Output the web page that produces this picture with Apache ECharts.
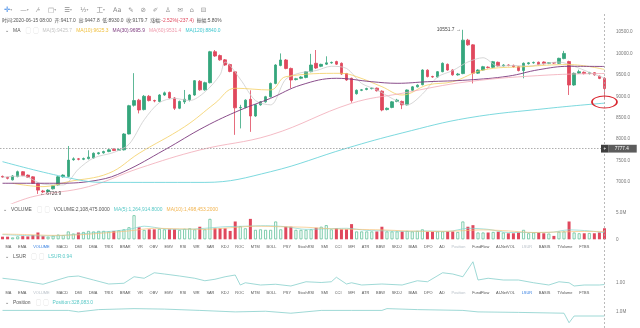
<!DOCTYPE html>
<html>
<head>
<meta charset="utf-8">
<script src="https://cdn.jsdelivr.net/npm/echarts@6/dist/echarts.min.js"></script>
<style>
html,body{margin:0;padding:0;background:#fff}
#c{width:640px;height:328px}
</style>
</head>
<body>
<div id="c"></div>
<script>
// 12h candles: [open, close, low, high]
const candles = [
[7130,7115,7095,7150],[7110,7085,7060,7120],[7050,7140,7035,7160],[7125,7240,7110,7265],[7240,7150,7135,7255],
[7160,7110,7095,7175],[7120,6970,6955,7135],[6960,6810,6720.9,6980],[6790,6770,6740,6815],[6780,6810,6760,6830],
[6840,6910,6825,6925],[6930,7120,6915,7135],[7120,7160,7100,7180],[7130,7510,7110,7840],[7520,7540,7495,7575],
[7540,7530,7505,7560],[7530,7545,7510,7570],[7545,7580,7525,7740],[7560,7670,7545,7690],[7660,7680,7640,7700],
[7680,7710,7660,7730],[7710,7750,7695,7770],[7765,7735,7720,7785],[7740,7760,7725,7780],[7750,8120,7735,8140],
[8120,8780,8110,8800],[8790,8900,8760,9540],[8910,8680,8600,8940],[8690,9000,8670,9030],[9000,8900,8880,9030],
[8900,8890,8860,8920],[8880,9030,8860,9050],[9030,9080,9010,9110],[9090,8960,8940,9110],[8960,8720,8680,8980],
[8720,8880,8700,8900],[8870,8930,8820,9147],[8920,9030,8880,9050],[9030,9364,9010,9380],[9350,9150,9130,9380],
[9150,9317,9130,9340],[9317,10040,9300,10060],[10040,9940,9920,10080],[9950,9850,9830,9975],[9850,9730,9710,9870],
[9740,9580,9560,9760],[9570,8730,8100,9590],[8730,8740,8250,8800],[8740,8910,8720,8930],[8930,8540,8170,9140],
[8540,8800,8520,8820],[8800,8870,8780,8890],[8870,8990,8850,9010],[8990,9300,8970,9320],[9300,9730,9280,9750],
[9720,9847,9700,10000],[9847,9650,9630,9870],[9650,9380,9190,9670],[9390,9410,9370,9430],[9420,9450,9400,9470],
[9440,9574,9420,9590],[9574,9730,9560,9990],[9770,9660,9640,10080],[9700,9745,9680,9760],[9750,9780,9730,9933],
[9780,9790,9760,9810],[9810,9750,9730,9830],[9770,9520,9500,9790],[9530,9380,9360,9545],[9420,8900,8850,9435],
[9060,9140,9040,9160],[9140,9150,9120,9170],[9160,9180,9140,9200],[9180,9190,9160,9210],[9190,9130,9110,9205],
[9120,8680,8650,9140],[8690,8720,8670,8740],[8740,8870,8720,8890],[8880,8910,8860,8940],[8880,8800,8700,8900],
[8800,9147,8785,9160],[9140,9220,9125,9240],[9220,9260,9205,9280],[9270,9613,9255,9630],[9610,9460,9440,9630],
[9460,9450,9430,9480],[9450,9574,9435,9590],[9574,9770,9560,9790],[9746,9613,9595,9765],[9613,9500,9480,9630],
[9500,9520,9480,9545],[9530,10310,9515,10551.7],[10310,10200,10180,10340],[10200,9540,9300,10215],[9540,9613,9520,9630],
[9613,9690,9600,9710],[9680,9670,9650,9700],[9676,9807,9660,9825],[9793,9710,9690,9810],[9710,9730,9695,9750],
[9730,9720,9700,9745],[9720,9690,9670,9740],[9690,9600,9580,9705],[9600,9770,9420,9790],[9760,9780,9740,9800],
[9780,9790,9760,9810],[9795,9740,9720,9810],[9800,9760,9740,9815],[9770,9785,9750,9800],[9785,9775,9755,9800],
[9770,9886,9755,9900],[9880,10000,9865,10060],[9810,9263,9030,9830],[9263,9536,9245,9555],[9540,9575,9520,9620],
[9560,9530,9510,9580],[9530,9550,9510,9570],[9550,9500,9480,9565],[9470,9417.1,9400,9485],[9417.0,9179.7,8930.0,9447.8]
];

// volume, millions
const volumes = [
0.5,0.5,0.35,0.55,0.6,0.55,0.8,1.3,0.6,0.5,
0.7,0.9,0.8,1.5,1.1,1.3,1.4,1.6,1.5,1.6,
1.6,1.5,1.6,1.7,1.9,2.3,4.6,2.3,1.8,1.9,
1.9,2.0,1.9,1.9,1.9,1.8,2.0,2.1,1.9,2.4,
1.9,3.9,2.1,2.1,2.1,1.6,3.4,2.5,2.1,3.9,
1.8,1.9,1.8,1.8,3.4,1.9,2.4,2.4,1.8,1.8,
1.8,1.9,2.2,2.4,2.7,1.9,2.1,1.9,1.9,2.9,
1.5,1.5,1.5,1.5,1.5,2.4,1.5,1.5,1.5,1.5,
1.6,1.5,1.6,1.9,1.45,1.45,1.5,1.5,1.5,1.5,
1.4,3.4,2.4,2.7,1.3,1.3,1.3,1.4,1.45,1.3,
1.15,1.15,1.3,1.8,1.15,1.3,1.3,1.15,1.1,0.65,
1.45,1.5,3.4,1.3,1.15,1.15,1.2,1.15,1.3,2.108475
];

// price moving averages, [candle index, value]
const ma5 = [[0,7110],[4,7140],[8,6950],[12,6930],[15,7300],[18,7560],[22,7690],[25,7880],[28,8450],[31,8850],
  [34,8950],[37,8900],[40,9100],[43,9500],[44,9800],[47,9400],[50,8900],[53,8800],[56,9400],[59,9550],[62,9600],
  [65,9700],[68,9650],[71,9300],[74,9150],[77,8950],[80,8800],[83,9050],[86,9450],[89,9600],[92,9800],[95,9900],
  [98,9700],[101,9720],[104,9700],[107,9760],[110,9800],[113,9700],[116,9560],[119,9425.7]];
const ma10 = [[2,6970],[8,6891],[13,7007],[21,7203],[27,7670],[36,8290],[42,8836],[46,9187],[53,9147],[56,9457],
  [67,9536],[70,9457],[75,9224],[79,9030],[84,9263],[89,9340],[95,9613],[103,9690],[112,9740],[119,9625.3]];
const ma30 = [[0,6970],[11,6970],[19,7047],[24,7240],[32,7747],[40,8290],[47,8680],[53,8953],[59,9263],[66,9420],
  [73,9340],[78,9303],[84,9340],[92,9380],[100,9470],[106,9620],[112,9700],[119,9695.9]];
const ma60 = [[0,6400],[6,6658],[17,6891],[27,7320],[39,7747],[53,8097],[69,8836],[79,9070],[92,9340],[108,9497],[119,9531.4]];
const ma120 = [[0,7474],[12,7124],[20,6990],[40,6990],[53,7240],[68,7787],[79,8144],[92,8494],[108,8720],[119,8840.0]];

// volume moving averages (millions)
const volMa5 = [[0,0.9],[5,0.7],[10,0.65],[15,1.0],[20,1.4],[25,1.9],[28,2.5],[32,2.0],[36,1.9],[40,2.1],[44,2.4],
  [48,2.5],[52,2.6],[56,2.4],[60,1.9],[64,2.0],[68,2.1],[72,1.7],[76,1.6],[80,1.5],[84,1.6],[88,1.5],[92,2.1],
  [96,1.9],[100,1.3],[104,1.3],[108,1.3],[112,1.8],[116,1.6],[119,1.26]];
const volMa10 = [[0,1.0],[5,0.9],[10,0.75],[15,0.85],[20,1.2],[25,1.6],[30,2.1],[35,2.0],[40,1.9],[45,2.2],[50,2.5],
  [55,2.4],[60,2.3],[65,2.0],[70,1.9],[75,1.8],[80,1.6],[85,1.5],[90,1.6],[95,1.8],[100,1.6],[105,1.3],[110,1.4],
  [115,1.5],[119,1.5]];

// long/short users ratio
const lsur = [[0,1.19],[3,1.12],[8,0.95],[13,1.25],[15,1.28],[18,1.12],[21,0.96],[24,0.99],[26,1.25],[28,1.19],
  [30,1.41],[32,1.36],[35,1.28],[38,1.19],[40,1.09],[42,1.15],[44,1.25],[46,1.32],[47,0.92],[48,1.01],[51,0.92],
  [54,0.95],[57,0.88],[60,1.05],[63,1.02],[65,1.05],[66,1.23],[68,0.96],[69,1.01],[71,0.92],[75,0.96],[79,0.92],
  [82,1.09],[84,1.05],[87,1.41],[89,1.36],[91,1.25],[93,1.85],[94,1.12],[96,1.19],[99,1.12],[102,1.12],[105,1.01],
  [108,0.92],[110,1.05],[112,1.01],[113,0.88],[115,0.92],[118,0.92],[119,0.94]];

// open position (millions)
const position = [[0,1.07],[13,1.07],[15,0.98],[19,1.12],[26,1.18],[32,1.15],[39,1.07],[46,0.98],[52,1.02],
  [57,0.9],[63,1.07],[69,1.07],[75,1.07],[76,1.18],[82,1.12],[91,1.07],[94,0.98],[102,0.95],[111,0.9],[112,0.32],
  [113,0.73],[119,0.73]];

const tabNames = ['MA','EMA','VOLUME','MACD','DMI','DMA','TRIX','BRAR','VR','OBV','EMV','RSI','WR','SAR','KDJ','ROC',
  'MTM','BOLL','PSY','StochRSI','SMI','CCI','MFI','ATR','BBW','SKDJ','BIAS','DPO','AD','Position','FundFlow',
  'AI-NetVOL','LSUR','BASIS','TVolume','FTBS'];

// category labels: 12h steps ending 2020-06-15 08:00
const categories = [];
for (let i = 0; i < candles.length; i++) {
  const d = new Date(Date.UTC(2020, 3, 16, 20) + i * 12 * 3600e3);
  categories.push(d.toISOString().slice(0, 16).replace('T', ' '));
}

const UP = '#35a67c', DOWN = '#e0485d';
const FONT = '"Liberation Sans", "Noto Sans CJK SC", sans-serif';
const HF = 4.9;   // header text size
const TF = 3.9;   // indicator tab text size
const last = candles.length - 1;

const volData = volumes.map((v, i) => {
  const up = candles[i][1] >= candles[i][0];
  return {
    value: v * 1e6,
    itemStyle: up ? { color: '#ffffff', borderColor: '#62c29a', borderWidth: 0.8 } : { color: DOWN }
  };
});
const toM = arr => arr.map(p => [p[0], p[1] * 1e6]);

function tabRow(activeName, dimmed) {
  return tabNames.map(n => {
    const k = n === activeName ? 'a' : (dimmed.indexOf(n) >= 0 ? 'd' : 'n');
    return '{' + k + '|' + n + '}';
  }).join('');
}
const tabStyle = c => ({ fill: c, color: c, fontSize: TF, fontFamily: FONT, padding: [0, 3.4] });
const tabRich = { n: tabStyle('#555'), a: tabStyle('#2f7be0'), d: tabStyle('#b9c0c8') };

function txt(x, y, text, rich, size) {
  return {
    type: 'text', x: x, y: y, silent: true,
    style: { text: text, rich: rich, fontSize: size || HF, fontFamily: FONT, fill: '#555', verticalAlign: 'middle' }
  };
}
const hdr = c => ({ fill: c, color: c, fontSize: HF, fontFamily: FONT });

const xAxisBase = gi => ({
  type: 'category', gridIndex: gi, data: categories, boundaryGap: true,
  axisLine: { show: false }, axisTick: { show: false }, axisLabel: { show: false }, splitLine: { show: false }
});
const axisLbl = (fmt, extra) => Object.assign({
  fontSize: 4.6, color: '#777', fontFamily: FONT, margin: 9, formatter: fmt
}, extra || {});

const option = {
  animation: false,
  backgroundColor: '#ffffff',
  grid: [
    { left: 0, right: 33, top: 21.3, height: 182.1 },
    { left: 0, right: 33, top: 210.5, height: 28.8 },
    { left: 0, right: 33, top: 260.5, height: 47.5 },
    { left: 0, right: 33, top: 305, height: 28 },
    { left: 0, right: 33, top: 14, bottom: 0 }
  ],
  xAxis: [xAxisBase(0), xAxisBase(1), xAxisBase(2), xAxisBase(3), xAxisBase(4)],
  yAxis: [
    { type: 'value', gridIndex: 0, position: 'right', min: 6500, max: 10750, interval: 500,
      axisLine: { show: false }, axisTick: { show: false }, splitLine: { show: false },
      axisLabel: axisLbl(v => v.toFixed(1), { showMinLabel: false, showMaxLabel: false }) },
    { type: 'value', gridIndex: 1, position: 'right', min: 0, max: 5.5e6, interval: 5e6,
      axisLine: { show: false }, axisTick: { show: false }, splitLine: { show: false },
      axisLabel: axisLbl(v => v === 0 ? '0' : (v / 1e6).toFixed(1) + 'M', { showMaxLabel: false }) },
    { type: 'value', gridIndex: 2, position: 'right', min: 0, max: 1.9, interval: 1,
      axisLine: { show: false }, axisTick: { show: false }, splitLine: { show: false },
      axisLabel: axisLbl(v => v.toFixed(2), { showMinLabel: false, showMaxLabel: false }) },
    { type: 'value', gridIndex: 3, position: 'right', min: 0, max: 1.4e6, interval: 1e6,
      axisLine: { show: false }, axisTick: { show: false }, splitLine: { show: false },
      axisLabel: axisLbl(v => (v / 1e6).toFixed(1) + 'M', { showMinLabel: false, showMaxLabel: false }) },
    { type: 'value', gridIndex: 4, min: 0, max: 1, show: false }
  ],
  series: [
    {
      type: 'candlestick', xAxisIndex: 0, yAxisIndex: 0, data: candles, barWidth: 3,
      itemStyle: { color: UP, color0: DOWN, borderColor: UP, borderColor0: DOWN, borderWidth: 0.8 },
      markPoint: {
        silent: true,
        data: [
          { coord: [91, 10551.7], symbol: 'circle', symbolSize: 0.1,
            label: { show: true, position: 'left', distance: 2, formatter: '10551.7 →', fontSize: HF, color: '#444', fontFamily: FONT } },
          { coord: [7, 6720.9], symbol: 'circle', symbolSize: 0.1,
            label: { show: true, position: 'right', distance: 2, formatter: '← 6720.9', fontSize: HF, color: '#444', fontFamily: FONT } },
          { coord: [last, 8867], symbol: 'circle', symbolSize: [25, 12],
            itemStyle: { color: 'rgba(0,0,0,0)', borderColor: '#d9262f', borderWidth: 1.2 }, label: { show: false } }
        ]
      },
      markLine: {
        silent: true, symbol: 'none', animation: false,
        data: [
          { yAxis: 7777.4, lineStyle: { color: '#9a9a9a', type: [1.5, 1.5], width: 0.8 },
            label: { show: true, position: 'end', distance: -6, formatter: '{p|+}{v|7777.4}',
              rich: {
                p: { backgroundColor: '#3f3f3f', color: '#fff', fontSize: 4.6, padding: [1.6, 2.5], fontFamily: FONT },
                v: { backgroundColor: '#5c5c5c', color: '#fff', fontSize: 4.6, padding: [1.6, 8, 1.6, 6], fontFamily: FONT }
              } } },
          { yAxis: 9179.7, lineStyle: { opacity: 0 },
            label: { show: true, position: 'end', distance: 1, formatter: '9179.7', backgroundColor: DOWN,
              color: '#fff', fontSize: 4.6, padding: [1.6, 10, 1.6, 7], fontFamily: FONT } }
        ]
      }
    },
    { type: 'line', name: 'MA5', xAxisIndex: 0, yAxisIndex: 0, data: ma5, symbol: 'none', smooth: 0.3,
      lineStyle: { color: '#cdcdcd', width: 0.8 } },
    { type: 'line', name: 'MA10', xAxisIndex: 0, yAxisIndex: 0, data: ma10, symbol: 'none', smooth: 0.4,
      lineStyle: { color: '#f4cf62', width: 0.8 } },
    { type: 'line', name: 'MA30', xAxisIndex: 0, yAxisIndex: 0, data: ma30, symbol: 'none', smooth: 0.4,
      lineStyle: { color: '#7d3a7e', width: 0.9 } },
    { type: 'line', name: 'MA60', xAxisIndex: 0, yAxisIndex: 0, data: ma60, symbol: 'none', smooth: 0.4,
      lineStyle: { color: '#f1a9b6', width: 0.8 } },
    { type: 'line', name: 'MA120', xAxisIndex: 0, yAxisIndex: 0, data: ma120, symbol: 'none', smooth: 0.4,
      lineStyle: { color: '#5ccfd6', width: 0.8 } },
    {
      type: 'bar', xAxisIndex: 1, yAxisIndex: 1, data: volData, barWidth: 3,
      markLine: {
        silent: true, symbol: 'none',
        data: [{ yAxis: volumes[last] * 1e6, lineStyle: { opacity: 0 },
          label: { show: true, position: 'end', distance: 6, formatter: '2.1M', backgroundColor: '#f3a73a',
            color: '#fff', fontSize: 4.6, padding: [1.6, 8, 1.6, 5], fontFamily: FONT } }]
      }
    },
    { type: 'line', xAxisIndex: 1, yAxisIndex: 1, data: toM(volMa5), symbol: 'none', smooth: 0.3,
      lineStyle: { color: '#7fd6cf', width: 0.7 } },
    { type: 'line', xAxisIndex: 1, yAxisIndex: 1, data: toM(volMa10), symbol: 'none', smooth: 0.3,
      lineStyle: { color: '#f6c27a', width: 0.7 } },
    { type: 'line', xAxisIndex: 2, yAxisIndex: 2, data: lsur, symbol: 'none',
      lineStyle: { color: '#86cfcb', width: 0.8 } },
    { type: 'line', xAxisIndex: 3, yAxisIndex: 3, data: toM(position), symbol: 'none',
      lineStyle: { color: '#86cfcb', width: 0.8 } },
    {
      type: 'line', xAxisIndex: 4, yAxisIndex: 4, data: [], symbol: 'none',
      markLine: { silent: true, symbol: 'none', label: { show: false },
        lineStyle: { color: '#a8a8a8', type: [2, 2], width: 0.8 }, data: [{ xAxis: last }] }
    }
  ],
  graphic: [
    txt(4, 10, '{b|✛}{s|▾}      {i|—}{s|▾}      {i|⁄}{s|▾}      {i|□}{s|▾}      {i|☰}{s|▾}      {i|½}{s|▾}      {i|工}{s|▾}      {i|Aa}     {i|✎}     {i|⊘}     {i|✐}     {i|♙}     {i|✉}     {i|⌂}     {i|⊟}', {
      b: { fill: '#3b86e6', color: '#3b86e6', fontSize: 7.5, fontFamily: 'DejaVu Sans' },
      s: { fill: '#aaa', color: '#aaa', fontSize: 3.8, fontFamily: 'DejaVu Sans' },
      i: { fill: '#8d8d8d', color: '#8d8d8d', fontSize: 6.5, fontFamily: 'DejaVu Sans, Noto Sans CJK SC' }
    }),
    txt(2, 21, '{g|时间:2020-06-15 08:00  开:9417.0  高:9447.8  低:8930.0  收:9179.7  涨幅:}{r|-2.52%(-237.4)}{g|  振幅:5.80%}', {
      g: hdr('#555'), r: hdr(DOWN)
    }),
    txt(5, 31, '{g|⌄}   {g|MA}    {k|▢  ▢}   {a|MA(5):9425.7}   {y|MA(10):9625.3}   {p|MA(30):9695.9}   {k2|MA(60):9531.4}   {c|MA(120):8840.0}', {
      g: hdr('#555'), k: hdr('#c9c9c9'), a: hdr('#c4c4c4'), y: hdr('#f0c040'), p: hdr('#7d3a7e'), k2: hdr('#ee9aab'), c: hdr('#3fc6cf')
    }),
    txt(3, 210, '{g|⌄}   {g|VOLUME}    {k|▢  ▢}   {g|VOLUME:2,108,475.0000}   {c|MA(5):1,264,914.8000}   {o|MA(10):1,498,453.2000}', {
      g: hdr('#555'), k: hdr('#c9c9c9'), c: hdr('#57c8c6'), o: hdr('#f1b34e')
    }),
    txt(2, 246.5, tabRow('VOLUME', ['Position', 'LSUR']), tabRich, TF),
    txt(5, 256.5, '{g|⌄}   {g|LSUR}    {k|▢  ▢}   {c|LSUR:0.94}', { g: hdr('#555'), k: hdr('#c9c9c9'), c: hdr('#57c8c6') }),
    txt(2, 293, tabRow('LSUR', ['VOLUME', 'Position']), tabRich, TF),
    txt(5, 303, '{g|⌄}   {g|Position}    {k|▢  ▢}   {c|Position:328,083.0}', { g: hdr('#555'), k: hdr('#c9c9c9'), c: hdr('#57c8c6') })
  ]
};

const chart = echarts.init(document.getElementById('c'), null, { renderer: 'canvas' });
chart.setOption(option);
</script>
</body>
</html>
